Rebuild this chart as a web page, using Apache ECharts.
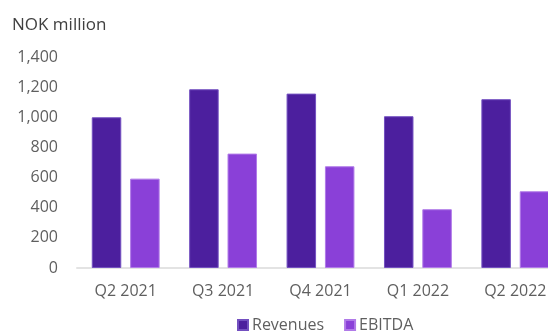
<!DOCTYPE html>
<html>
<head>
<meta charset="utf-8">
<script src="https://cdn.jsdelivr.net/npm/echarts@6/dist/echarts.min.js"></script>
<style>
html,body{margin:0;padding:0;background:#fff;overflow:hidden;width:548px;height:332px;}
#c{width:600px;height:332px;}
</style>
</head>
<body>
<div id="c"></div>
<script>
const categories = ['Q2 2021', 'Q3 2021', 'Q4 2021', 'Q1 2022', 'Q2 2022'];
const revenues = [1000, 1186, 1157, 1007, 1120];
const ebitda = [593, 759, 675, 390, 509];
const yMin = 0, yMax = 1400, yStep = 200;

const FONT = '"Open Sans", "Noto Sans", sans-serif';
const chart = echarts.init(document.getElementById('c'), null, {renderer: 'canvas'});
chart.setOption({
  animation: false,
  backgroundColor: '#ffffff',
  graphic: [{
    type: 'text', left: 12, top: 17,
    style: {text: 'NOK million', fill: '#404040', font: '17px ' + FONT}
  }],
  legend: {
    left: 232, top: 312,
    icon: 'rect', itemWidth: 10, itemHeight: 10, itemGap: 20,
    textStyle: {color: '#5f5f5f', fontSize: 16, fontFamily: FONT, padding: [0, 0, 0, -1]},
    data: ['Revenues', 'EBITDA']
  },
  grid: {left: 77, top: 57, width: 487, height: 211, containLabel: false},
  xAxis: {
    type: 'category', data: categories,
    axisLine: {show: true, lineStyle: {color: '#e3e3e3', width: 2}},
    axisTick: {show: false},
    axisLabel: {color: '#5f5f5f', fontSize: 16, fontFamily: FONT, margin: 15}
  },
  yAxis: {
    type: 'value', min: yMin, max: yMax, interval: yStep,
    axisLine: {show: false}, axisTick: {show: false},
    splitLine: {show: false},
    axisLabel: {
      color: '#5f5f5f', fontSize: 16, fontFamily: FONT, margin: 19,
      formatter: v => v.toLocaleString('en-US')
    }
  },
  series: [
    {
      name: 'Revenues', type: 'bar', data: revenues,
      barWidth: 29.5, barGap: '30%',
      itemStyle: {color: '#4c1f9e', borderColor: '#7350c0', borderWidth: 1}
    },
    {
      name: 'EBITDA', type: 'bar', data: ebitda,
      barWidth: 29.5,
      itemStyle: {color: '#8a40d8', borderColor: '#b07ae8', borderWidth: 1}
    }
  ]
});
</script>
</body>
</html>
